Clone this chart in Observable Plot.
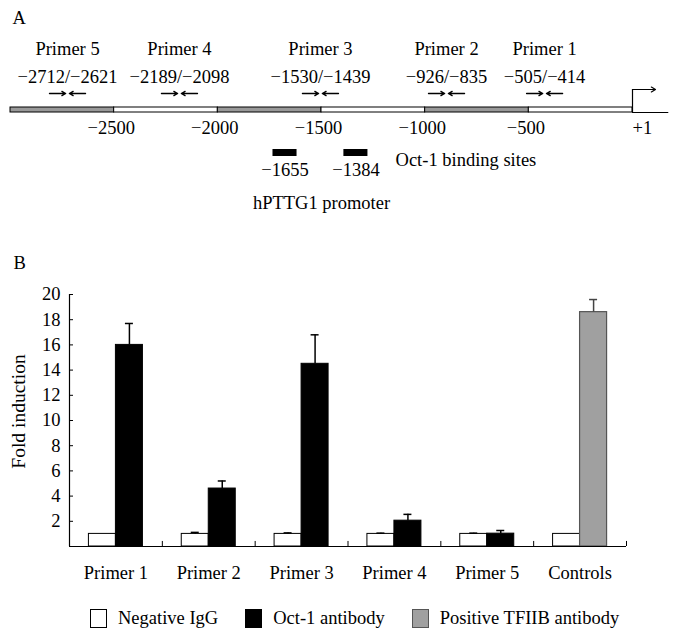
<!DOCTYPE html>
<html>
<head>
<meta charset="utf-8">
<script src="https://cdn.jsdelivr.net/npm/d3@7"></script>
<script src="https://cdn.jsdelivr.net/npm/@observablehq/plot@0.6"></script>
<style>
  body { margin: 0; background: #fff; font-family: "Liberation Serif", "Times New Roman", serif; color: #000; }
  #legend { display: flex; align-items: center; margin-left: 90px; height: 30px; margin-top: 8px; font-size: 18.5px; }
  .item { display: flex; align-items: center; margin-right: 27px; }
  .box { width: 15px; height: 17px; border: 1px solid #000; margin-right: 11px; }
</style>
</head>
<body>
<div id="panelA"></div>
<div id="panelB"></div>
<div id="legend"></div>
<script>
// ---------- Panel A data (bp positions) ----------
const segStart = [-3000, -2500, -2000, -1500, -1000, -500];
const segEnd   = [-2500, -2000, -1500, -1000, -500, 0];
const segShade = ["gray", "white", "gray", "white", "gray", "white"];
const promoterTicks = [-2500, -2000, -1500, -1000, -500];
const promoterTickLabels = ["−2500", "−2000", "−1500", "−1000", "−500"];
const primerNames  = ["Primer 1", "Primer 2", "Primer 3", "Primer 4", "Primer 5"];
const primerRanges = ["−505/−414", "−926/−835", "−1530/−1439", "−2189/−2098", "−2712/−2621"];
const primerDrawnPos = [-424, -897, -1505, -2185, -2725];
const siteLabels = ["−1655", "−1384"];
const siteDrawnPos = [-1676, -1334];

// ---------- Panel B data ----------
const categories = ["Primer 1", "Primer 2", "Primer 3", "Primer 4", "Primer 5", "Controls"];
const negIgG      = [1.0, 1.0, 1.0, 1.0, 1.0, 1.0];
const negIgGErr   = [0, 0.12, 0.08, 0.06, 0.06, 0];
const antibody    = [16.0, 4.6, 14.5, 2.05, 1.02, 18.6];
const antibodyErr = [1.7, 0.6, 2.3, 0.5, 0.25, 1.0];
const antibodyType = ["Oct-1 antibody", "Oct-1 antibody", "Oct-1 antibody", "Oct-1 antibody", "Oct-1 antibody", "Positive TFIIB antibody"];
const yTicks = [2, 4, 6, 8, 10, 12, 14, 16, 18, 20];
const yLabel = "Fold induction";
const legendLabels = ["Negative IgG", "Oct-1 antibody", "Positive TFIIB antibody"];
const legendColors = ["#ffffff", "#000000", "#a0a0a0"];

const FONT = "Liberation Serif";
const FS = 18.5;

// layout rows for the schematic (pixel rows)
const row = { primer: 49, range: 77, arrow: 93, stripTop: 107, stripBot: 112, tss: 89, tick: 128, siteTop: 149, siteBot: 156, siteLabel: 170, siteText: 160, promoter: 203 };

const segs = segStart.map((s, i) => ({ s, e: segEnd[i], shade: segShade[i] }));
const primers = primerNames.map((n, i) => ({ name: n, range: primerRanges[i], pos: primerDrawnPos[i] }));
const sites = siteLabels.map((l, i) => ({ label: l, pos: siteDrawnPos[i] }));
const ticksA = promoterTicks.map((t, i) => ({ t, label: promoterTickLabels[i] }));

const HA = 230;
const panelA = Plot.plot({
  width: 679, height: HA,
  marginLeft: 10, marginRight: 47, marginTop: 0, marginBottom: 0,
  x: { domain: [-3000, 0], axis: null },
  y: { domain: [0, HA], range: [0, HA], axis: null },
  style: { fontFamily: FONT, fontSize: FS + "px", color: "#000", background: "#fff" },
  marks: [
    Plot.text(["A"], { frameAnchor: "top-left", dx: 2, dy: 18, textAnchor: "start", lineAnchor: "middle", fontSize: FS }),
    Plot.text(primers, { x: "pos", y: () => row.primer, text: "name", lineAnchor: "middle", fontSize: FS }),
    Plot.text(primers, { x: "pos", y: () => row.range, text: "range", lineAnchor: "middle", fontSize: FS }),
    Plot.arrow(primers, { x1: d => d.pos - 87, x2: d => d.pos - 9, y1: () => row.arrow, y2: () => row.arrow, stroke: "#000", strokeWidth: 1.3, headLength: 5 }),
    Plot.arrow(primers, { x1: d => d.pos + 87, x2: d => d.pos + 9, y1: () => row.arrow, y2: () => row.arrow, stroke: "#000", strokeWidth: 1.3, headLength: 5 }),
    Plot.rect(segs, { x1: "s", x2: "e", y1: () => row.stripTop, y2: () => row.stripBot, fill: d => d.shade === "gray" ? "#999999" : "#ffffff", stroke: "#000", strokeWidth: 1 }),
    Plot.ruleY([row.stripBot], { x1: 0, x2: 175, stroke: "#000", strokeWidth: 1 }),
    Plot.ruleX([0], { y1: row.stripBot, y2: row.tss, stroke: "#000", strokeWidth: 1.2 }),
    Plot.arrow([0], { x1: 0, x2: 111, y1: row.tss, y2: row.tss, stroke: "#000", strokeWidth: 1.2, headLength: 6 }),
    Plot.text(ticksA, { x: "t", y: () => row.tick, text: "label", dx: -3, lineAnchor: "middle", fontSize: FS }),
    Plot.text(["+1"], { x: 0, y: row.tick, textAnchor: "start", lineAnchor: "middle", fontSize: FS }),
    Plot.rect(sites, { x1: d => d.pos - 58, x2: d => d.pos + 58, y1: () => row.siteTop, y2: () => row.siteBot, fill: "#000" }),
    Plot.text(sites, { x: "pos", y: () => row.siteLabel, text: "label", lineAnchor: "middle", fontSize: FS }),
    Plot.text(["Oct-1 binding sites"], { x: -1143, y: row.siteText, textAnchor: "start", lineAnchor: "middle", fontSize: FS }),
    Plot.text(["hPTTG1 promoter"], { x: -1500, y: row.promoter, lineAnchor: "middle", fontSize: FS })
  ]
});
document.getElementById("panelA").append(panelA);

// ---------- Panel B ----------
const bars = categories.map((c, i) => ({
  cat: c, neg: negIgG[i], negErr: negIgGErr[i], ab: antibody[i], abErr: antibodyErr[i], type: antibodyType[i]
}));
const step = (679 - 69 - 53) / categories.length; // band step in px
const half = step / 2;
const barW = 27;
const wIn = half - barW;
const HB = 365;

const panelB = Plot.plot({
  width: 679, height: HB,
  marginLeft: 69, marginRight: 53, marginTop: 64, marginBottom: 49,
  x: { type: "band", domain: categories, padding: 0, round: false },
  y: { domain: [0, 20] },
  style: { fontFamily: FONT, fontSize: FS + "px", color: "#000", background: "#fff" },
  marks: [
    Plot.text(["B"], { frameAnchor: "top-left", dx: -56, dy: -31, textAnchor: "start", lineAnchor: "middle", fontSize: FS }),
    Plot.barY(bars, { x: "cat", y: "neg", fill: "#fff", stroke: "#000", strokeWidth: 1, insetLeft: wIn, insetRight: half }),
    Plot.barY(bars.filter(d => d.type === "Oct-1 antibody"), { x: "cat", y: "ab", fill: "#000", stroke: "#000", strokeWidth: 1, insetLeft: half, insetRight: wIn }),
    Plot.barY(bars.filter(d => d.type !== "Oct-1 antibody"), { x: "cat", y: "ab", fill: "#a0a0a0", stroke: "#555", strokeWidth: 1.2, insetLeft: half, insetRight: wIn }),
    // error bars (upper only)
    Plot.ruleX(bars.filter(d => d.negErr > 0), { x: "cat", y1: "neg", y2: d => d.neg + d.negErr, dx: -barW / 2, stroke: "#000", strokeWidth: 1.5 }),
    Plot.tickY(bars.filter(d => d.negErr > 0), { x: "cat", y: d => d.neg + d.negErr, insetLeft: half - barW / 2 - 4, insetRight: half + barW / 2 - 4, stroke: "#000", strokeWidth: 1.5 }),
    Plot.ruleX(bars, { x: "cat", y1: "ab", y2: d => d.ab + d.abErr, dx: barW / 2, stroke: d => d.type === "Oct-1 antibody" ? "#000" : "#444", strokeWidth: 1.5 }),
    Plot.tickY(bars, { x: "cat", y: d => d.ab + d.abErr, insetLeft: half + barW / 2 - 4, insetRight: half - barW / 2 - 4, stroke: d => d.type === "Oct-1 antibody" ? "#000" : "#444", strokeWidth: 1.5 }),
    // axes
    Plot.ruleY([0], { stroke: "#000", strokeWidth: 1.2 }),
    Plot.ruleX([categories[0]], { x: d => d, dx: -half, y1: 0, y2: 20, stroke: "#000", strokeWidth: 1.2 }),
    Plot.ruleX(categories, { x: d => d, dx: half, y1: 0, y2: 0.4, stroke: "#000", strokeWidth: 1 }),
    Plot.axisY(yTicks, { tickSize: -4, tickPadding: 13, label: null, fontSize: FS }),
    Plot.axisX({ tickSize: 0, tickPadding: 19, label: null, fontSize: FS }),
    Plot.text([yLabel], { frameAnchor: "left", textAnchor: "middle", lineAnchor: "middle", rotate: -90, dx: -51, dy: -9, fontSize: 19.5, fontFamily: FONT })
  ]
});
document.getElementById("panelB").append(panelB);

// ---------- Legend ----------
const legend = document.getElementById("legend");
legendLabels.forEach((l, i) => {
  const item = document.createElement("div");
  item.className = "item";
  const box = document.createElement("div");
  box.className = "box";
  box.style.background = legendColors[i];
  if (i === 2) box.style.borderColor = "#555";
  const txt = document.createElement("span");
  txt.textContent = l;
  item.append(box, txt);
  legend.append(item);
});
</script>
</body>
</html>
